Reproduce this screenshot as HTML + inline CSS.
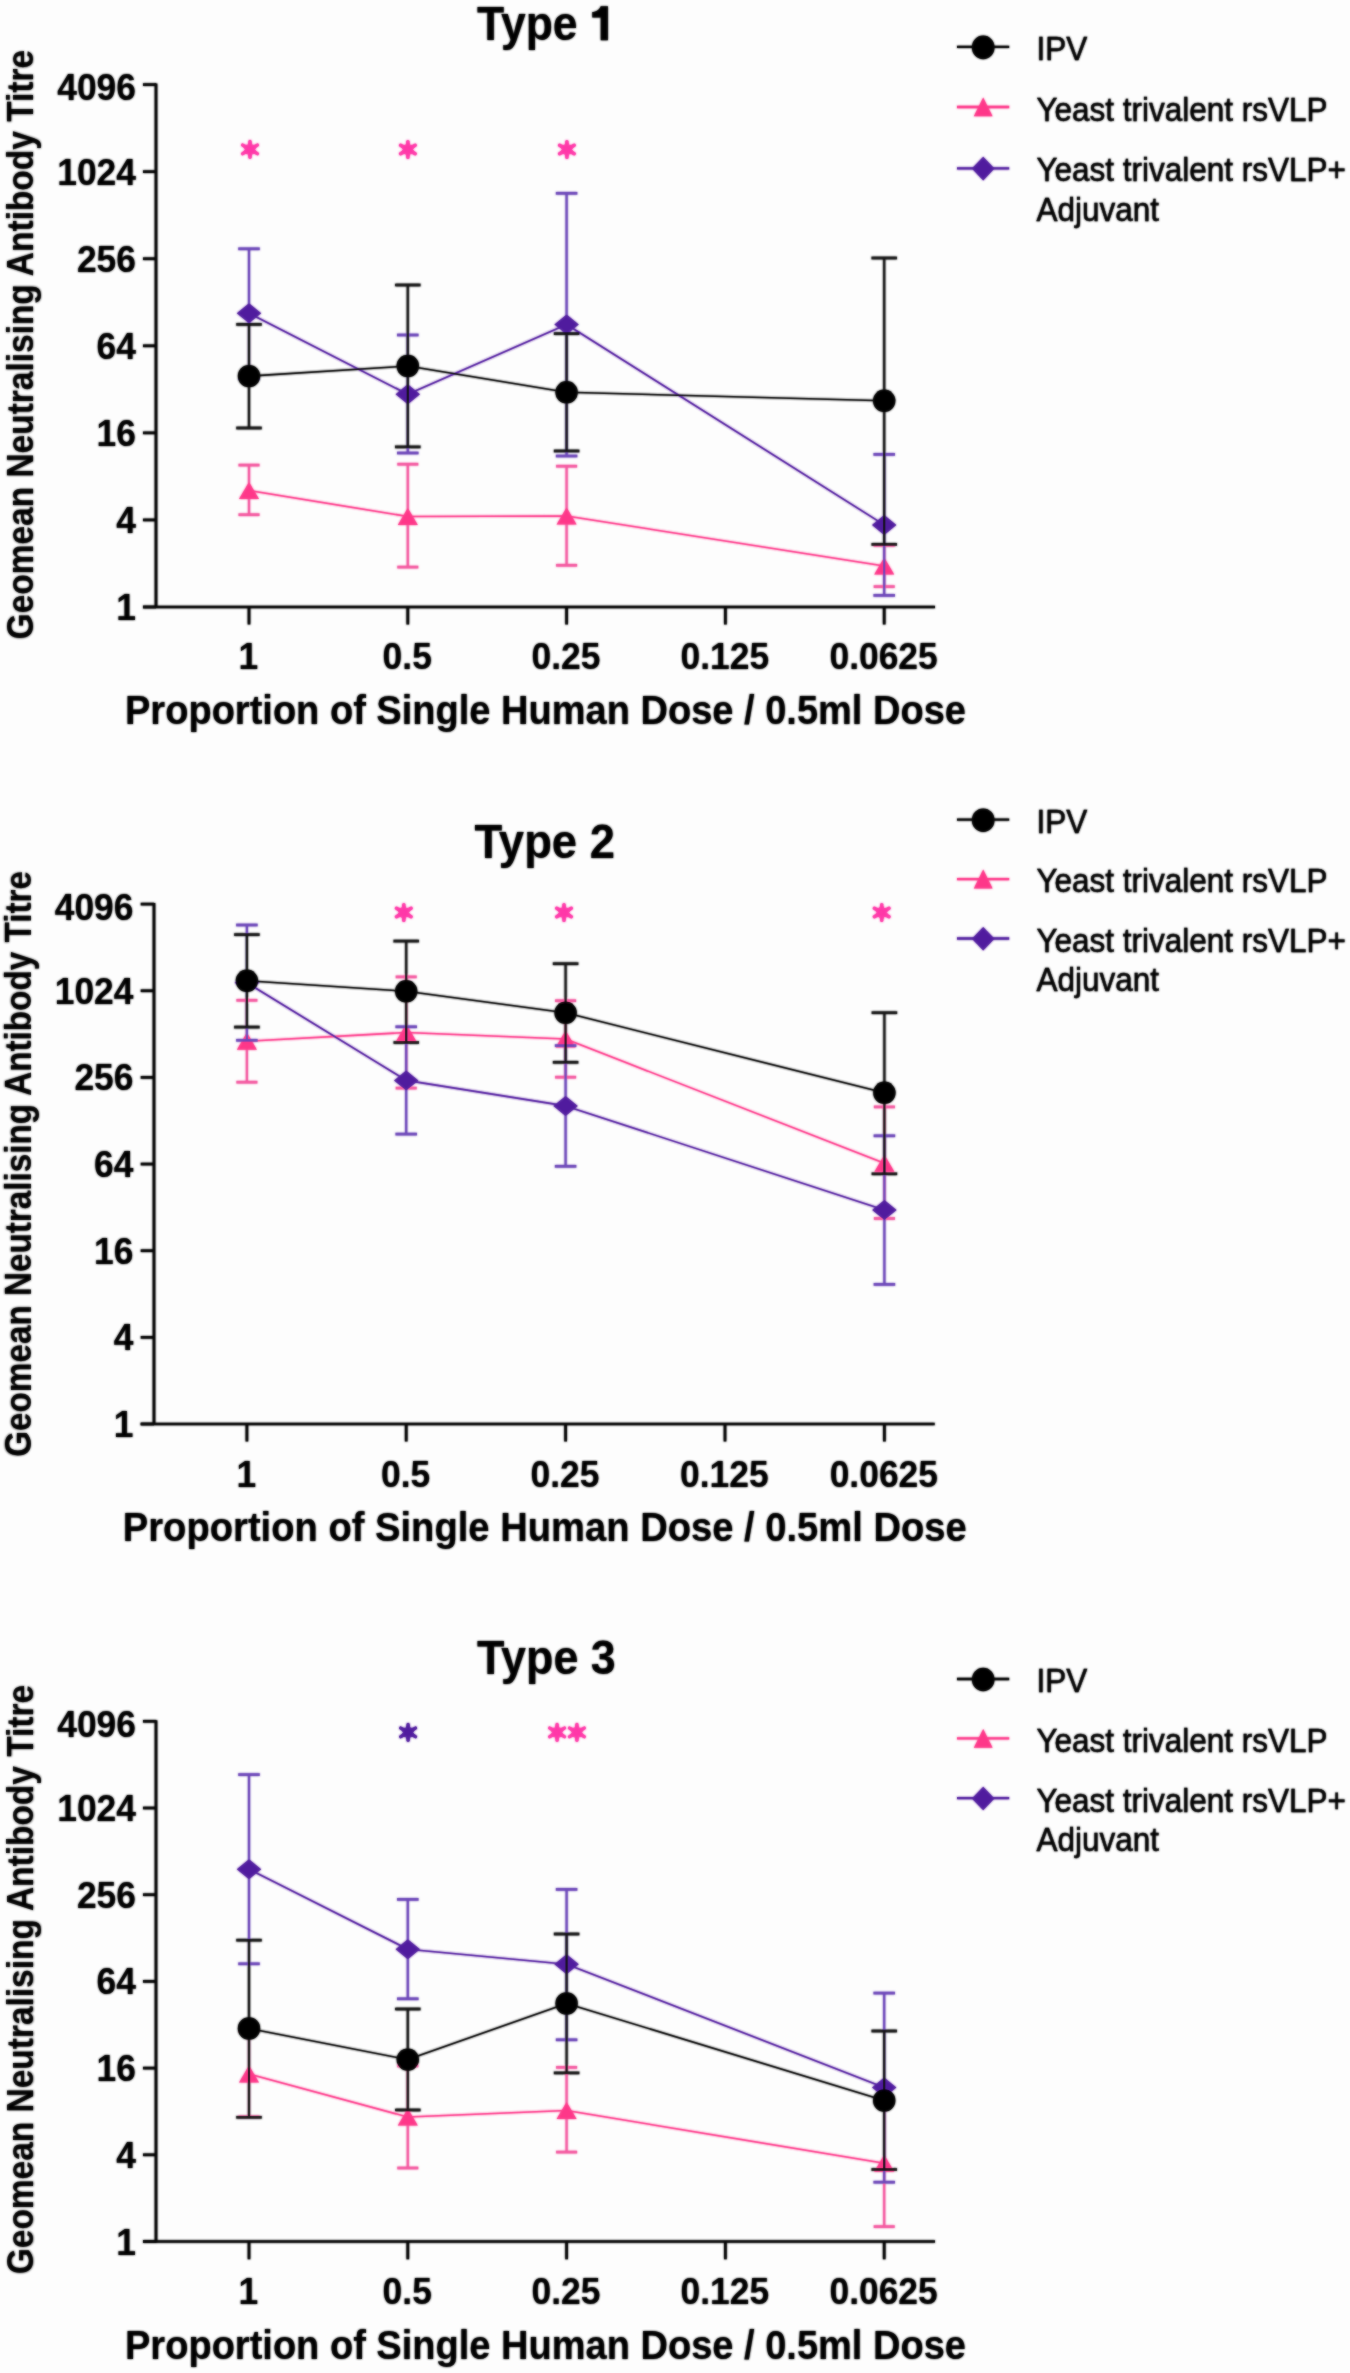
<!DOCTYPE html>
<html><head><meta charset="utf-8"><title>Geomean Neutralising Antibody Titre</title>
<style>
html,body{margin:0;padding:0;background:#fdfdfd;}
body{width:1350px;height:2373px;overflow:hidden;}
svg{display:block;}
text{font-family:"Liberation Sans",sans-serif;fill:#000;}
.tk{font-weight:bold;font-size:36.6px;}
.xt{font-weight:bold;font-size:41px;}
.yt{font-weight:bold;font-size:36px;}
.tt{font-weight:bold;font-size:49px;}
.lg{font-size:32.7px;stroke:#000;stroke-width:0.35px;}
</style></head>
<body>
<svg width="1350" height="2373" viewBox="0 0 1350 2373">
<defs><filter id="bl" x="-2%" y="-2%" width="104%" height="104%"><feGaussianBlur stdDeviation="1"/></filter>
<g id="c">
<line x1="156" y1="83.6" x2="156" y2="608" stroke="#000" stroke-width="2.7"/>
<line x1="143" y1="607" x2="935" y2="607" stroke="#000" stroke-width="2.7"/>
<line x1="143" y1="607" x2="156" y2="607" stroke="#000" stroke-width="2.7"/>
<text transform="translate(136,620) scale(0.968,1)" class="tk" text-anchor="end">1</text>
<line x1="143" y1="519.93" x2="156" y2="519.93" stroke="#000" stroke-width="2.7"/>
<text transform="translate(136,532.93) scale(0.968,1)" class="tk" text-anchor="end">4</text>
<line x1="143" y1="432.87" x2="156" y2="432.87" stroke="#000" stroke-width="2.7"/>
<text transform="translate(136,445.87) scale(0.968,1)" class="tk" text-anchor="end">16</text>
<line x1="143" y1="345.8" x2="156" y2="345.8" stroke="#000" stroke-width="2.7"/>
<text transform="translate(136,358.8) scale(0.968,1)" class="tk" text-anchor="end">64</text>
<line x1="143" y1="258.73" x2="156" y2="258.73" stroke="#000" stroke-width="2.7"/>
<text transform="translate(136,271.73) scale(0.968,1)" class="tk" text-anchor="end">256</text>
<line x1="143" y1="171.67" x2="156" y2="171.67" stroke="#000" stroke-width="2.7"/>
<text transform="translate(136,184.67) scale(0.968,1)" class="tk" text-anchor="end">1024</text>
<line x1="143" y1="84.6" x2="156" y2="84.6" stroke="#000" stroke-width="2.7"/>
<text transform="translate(136,100) scale(0.968,1)" class="tk" text-anchor="end">4096</text>
<line x1="249" y1="607" x2="249" y2="624.5" stroke="#000" stroke-width="2.7"/>
<text transform="translate(248.4,668.5) scale(0.968,1)" class="tk" text-anchor="middle">1</text>
<line x1="407.8" y1="607" x2="407.8" y2="624.5" stroke="#000" stroke-width="2.7"/>
<text transform="translate(407.2,668.5) scale(0.968,1)" class="tk" text-anchor="middle">0.5</text>
<line x1="566.6" y1="607" x2="566.6" y2="624.5" stroke="#000" stroke-width="2.7"/>
<text transform="translate(566,668.5) scale(0.968,1)" class="tk" text-anchor="middle">0.25</text>
<line x1="725.4" y1="607" x2="725.4" y2="624.5" stroke="#000" stroke-width="2.7"/>
<text transform="translate(724.8,668.5) scale(0.968,1)" class="tk" text-anchor="middle">0.125</text>
<line x1="884.2" y1="607" x2="884.2" y2="624.5" stroke="#000" stroke-width="2.7"/>
<text transform="translate(883.6,668.5) scale(0.968,1)" class="tk" text-anchor="middle">0.0625</text>
<text x="125" y="723.8" class="xt" textLength="841" lengthAdjust="spacingAndGlyphs">Proportion of Single Human Dose / 0.5ml Dose</text>
<text transform="translate(33.1,639.4) rotate(-90)" x="0" y="0" class="yt" textLength="589.5" lengthAdjust="spacingAndGlyphs">Geomean Neutralising Antibody Titre</text>
<text x="477" y="40" class="tt" textLength="100.6" lengthAdjust="spacingAndGlyphs">Type</text>
<path d="M600.7,6.2 L607.9,6.2 L607.9,40.2 L600.7,40.2 L600.7,17.6 L592.3,17.6 L592.3,12.0 C596.6,11.8 599.6,9.6 600.7,6.2 Z" fill="#000"/>
<line x1="249" y1="465.1" x2="249" y2="514.7" stroke="#f4579f" stroke-width="2.2"/>
<line x1="238.5" y1="465.1" x2="259.5" y2="465.1" stroke="#f4579f" stroke-width="2.7"/>
<line x1="238.5" y1="514.7" x2="259.5" y2="514.7" stroke="#f4579f" stroke-width="2.7"/>
<line x1="407.8" y1="464.2" x2="407.8" y2="567.1" stroke="#f4579f" stroke-width="2.2"/>
<line x1="397.3" y1="464.2" x2="418.3" y2="464.2" stroke="#f4579f" stroke-width="2.7"/>
<line x1="397.3" y1="567.1" x2="418.3" y2="567.1" stroke="#f4579f" stroke-width="2.7"/>
<line x1="566.6" y1="466.2" x2="566.6" y2="565.3" stroke="#f4579f" stroke-width="2.2"/>
<line x1="556.1" y1="466.2" x2="577.1" y2="466.2" stroke="#f4579f" stroke-width="2.7"/>
<line x1="556.1" y1="565.3" x2="577.1" y2="565.3" stroke="#f4579f" stroke-width="2.7"/>
<line x1="884.2" y1="545.4" x2="884.2" y2="586.6" stroke="#f4579f" stroke-width="2.2"/>
<line x1="873.7" y1="545.4" x2="894.7" y2="545.4" stroke="#f4579f" stroke-width="2.7"/>
<line x1="873.7" y1="586.6" x2="894.7" y2="586.6" stroke="#f4579f" stroke-width="2.7"/>
<polyline points="249,490.5 407.8,516.5 566.6,516 884.2,566" fill="none" stroke="#fe3789" stroke-width="1.6" stroke-linejoin="round"/>
<polygon points="249,481.9 259,499 239,499" fill="#fe3789"/>
<polygon points="407.8,507.9 417.8,525 397.8,525" fill="#fe3789"/>
<polygon points="566.6,507.4 576.6,524.5 556.6,524.5" fill="#fe3789"/>
<polygon points="884.2,557.4 894.2,574.5 874.2,574.5" fill="#fe3789"/>
<line x1="249" y1="248.8" x2="249" y2="378.8" stroke="#6b45b8" stroke-width="2.2"/>
<line x1="238.25" y1="248.8" x2="259.75" y2="248.8" stroke="#6b45b8" stroke-width="2.7"/>
<line x1="238.25" y1="378.8" x2="259.75" y2="378.8" stroke="#6b45b8" stroke-width="2.7"/>
<line x1="407.8" y1="335" x2="407.8" y2="453" stroke="#6b45b8" stroke-width="2.2"/>
<line x1="397.05" y1="335" x2="418.55" y2="335" stroke="#6b45b8" stroke-width="2.7"/>
<line x1="397.05" y1="453" x2="418.55" y2="453" stroke="#6b45b8" stroke-width="2.7"/>
<line x1="566.6" y1="193.3" x2="566.6" y2="456" stroke="#6b45b8" stroke-width="2.2"/>
<line x1="555.85" y1="193.3" x2="577.35" y2="193.3" stroke="#6b45b8" stroke-width="2.7"/>
<line x1="555.85" y1="456" x2="577.35" y2="456" stroke="#6b45b8" stroke-width="2.7"/>
<line x1="884.2" y1="454.4" x2="884.2" y2="595.4" stroke="#6b45b8" stroke-width="2.2"/>
<line x1="873.45" y1="454.4" x2="894.95" y2="454.4" stroke="#6b45b8" stroke-width="2.7"/>
<line x1="873.45" y1="595.4" x2="894.95" y2="595.4" stroke="#6b45b8" stroke-width="2.7"/>
<polyline points="249,313.3 407.8,394.3 566.6,324.5 884.2,524.9" fill="none" stroke="#511c9f" stroke-width="1.6" stroke-linejoin="round"/>
<polygon points="249,303.3 261.2,313.3 249,323.3 236.8,313.3" fill="#511c9f"/>
<polygon points="407.8,384.3 420,394.3 407.8,404.3 395.6,394.3" fill="#511c9f"/>
<polygon points="566.6,314.5 578.8,324.5 566.6,334.5 554.4,324.5" fill="#511c9f"/>
<polygon points="884.2,514.9 896.4,524.9 884.2,534.9 872,524.9" fill="#511c9f"/>
<line x1="249" y1="324.4" x2="249" y2="428" stroke="#111" stroke-width="2.2"/>
<line x1="236.25" y1="324.4" x2="261.75" y2="324.4" stroke="#111" stroke-width="2.7"/>
<line x1="236.25" y1="428" x2="261.75" y2="428" stroke="#111" stroke-width="2.7"/>
<line x1="407.8" y1="285" x2="407.8" y2="446.9" stroke="#111" stroke-width="2.2"/>
<line x1="395.05" y1="285" x2="420.55" y2="285" stroke="#111" stroke-width="2.7"/>
<line x1="395.05" y1="446.9" x2="420.55" y2="446.9" stroke="#111" stroke-width="2.7"/>
<line x1="566.6" y1="333.6" x2="566.6" y2="451" stroke="#111" stroke-width="2.2"/>
<line x1="553.85" y1="333.6" x2="579.35" y2="333.6" stroke="#111" stroke-width="2.7"/>
<line x1="553.85" y1="451" x2="579.35" y2="451" stroke="#111" stroke-width="2.7"/>
<line x1="884.2" y1="258" x2="884.2" y2="544.4" stroke="#111" stroke-width="2.2"/>
<line x1="871.45" y1="258" x2="896.95" y2="258" stroke="#111" stroke-width="2.7"/>
<line x1="871.45" y1="544.4" x2="896.95" y2="544.4" stroke="#111" stroke-width="2.7"/>
<polyline points="249,376.1 407.8,366 566.6,392.3 884.2,400.8" fill="none" stroke="#000" stroke-width="1.6" stroke-linejoin="round"/>
<circle cx="249" cy="376.1" r="11.2" fill="#000"/>
<circle cx="407.8" cy="366" r="11.2" fill="#000"/>
<circle cx="566.6" cy="392.3" r="11.2" fill="#000"/>
<circle cx="884.2" cy="400.8" r="11.2" fill="#000"/>
<g fill="#ff39a8" stroke="#ff39a8"><polygon points="250,140.8 252.3,145.42 257.45,145.1 254.6,149.4 257.45,153.7 252.3,153.38 250,158 247.7,153.38 242.55,153.7 245.4,149.4 242.55,145.1 247.7,145.42" stroke-width="1" stroke-linejoin="round"/><line x1="250" y1="149.4" x2="250" y2="141.5" stroke-width="3.4" stroke-linecap="round"/><line x1="250" y1="149.4" x2="257.36" y2="145.15" stroke-width="3.4" stroke-linecap="round"/><line x1="250" y1="149.4" x2="257.36" y2="153.65" stroke-width="3.4" stroke-linecap="round"/><line x1="250" y1="149.4" x2="250" y2="157.3" stroke-width="3.4" stroke-linecap="round"/><line x1="250" y1="149.4" x2="242.64" y2="153.65" stroke-width="3.4" stroke-linecap="round"/><line x1="250" y1="149.4" x2="242.64" y2="145.15" stroke-width="3.4" stroke-linecap="round"/></g>
<g fill="#ff39a8" stroke="#ff39a8"><polygon points="407.9,140.9 410.2,145.52 415.35,145.2 412.5,149.5 415.35,153.8 410.2,153.48 407.9,158.1 405.6,153.48 400.45,153.8 403.3,149.5 400.45,145.2 405.6,145.52" stroke-width="1" stroke-linejoin="round"/><line x1="407.9" y1="149.5" x2="407.9" y2="141.6" stroke-width="3.4" stroke-linecap="round"/><line x1="407.9" y1="149.5" x2="415.26" y2="145.25" stroke-width="3.4" stroke-linecap="round"/><line x1="407.9" y1="149.5" x2="415.26" y2="153.75" stroke-width="3.4" stroke-linecap="round"/><line x1="407.9" y1="149.5" x2="407.9" y2="157.4" stroke-width="3.4" stroke-linecap="round"/><line x1="407.9" y1="149.5" x2="400.54" y2="153.75" stroke-width="3.4" stroke-linecap="round"/><line x1="407.9" y1="149.5" x2="400.54" y2="145.25" stroke-width="3.4" stroke-linecap="round"/></g>
<g fill="#ff39a8" stroke="#ff39a8"><polygon points="566.9,140.9 569.2,145.52 574.35,145.2 571.5,149.5 574.35,153.8 569.2,153.48 566.9,158.1 564.6,153.48 559.45,153.8 562.3,149.5 559.45,145.2 564.6,145.52" stroke-width="1" stroke-linejoin="round"/><line x1="566.9" y1="149.5" x2="566.9" y2="141.6" stroke-width="3.4" stroke-linecap="round"/><line x1="566.9" y1="149.5" x2="574.26" y2="145.25" stroke-width="3.4" stroke-linecap="round"/><line x1="566.9" y1="149.5" x2="574.26" y2="153.75" stroke-width="3.4" stroke-linecap="round"/><line x1="566.9" y1="149.5" x2="566.9" y2="157.4" stroke-width="3.4" stroke-linecap="round"/><line x1="566.9" y1="149.5" x2="559.54" y2="153.75" stroke-width="3.4" stroke-linecap="round"/><line x1="566.9" y1="149.5" x2="559.54" y2="145.25" stroke-width="3.4" stroke-linecap="round"/></g>
<line x1="957" y1="46.9" x2="1009.2" y2="46.9" stroke="#000" stroke-width="2.3"/>
<ellipse cx="983.2" cy="47.4" rx="11.3" ry="11.8" fill="#000"/>
<line x1="957" y1="107" x2="1009.2" y2="107" stroke="#fe3789" stroke-width="2.3"/>
<polygon points="983.2,97.5 992.6,116.3 973.8,116.3" fill="#fe3789"/>
<line x1="957" y1="168.3" x2="1009.2" y2="168.3" stroke="#511c9f" stroke-width="2.3"/>
<polygon points="983.2,156.8 994.5,168.6 983.2,180.4 971.9,168.6" fill="#511c9f"/>
<text transform="translate(1036.4,59.8) scale(0.963,1)" class="lg">IPV</text>
<text transform="translate(1036.4,121) scale(0.963,1)" class="lg">Yeast trivalent rsVLP</text>
<text transform="translate(1036.4,181) scale(0.963,1)" class="lg">Yeast trivalent rsVLP+</text>
<text transform="translate(1036.4,221) scale(0.963,1)" class="lg">Adjuvant</text>
<line x1="154" y1="903.1" x2="154" y2="1425" stroke="#000" stroke-width="2.7"/>
<line x1="140.7" y1="1424" x2="934.7" y2="1424" stroke="#000" stroke-width="2.7"/>
<line x1="140.7" y1="1424" x2="154" y2="1424" stroke="#000" stroke-width="2.7"/>
<text transform="translate(133.5,1437) scale(0.968,1)" class="tk" text-anchor="end">1</text>
<line x1="140.7" y1="1337.35" x2="154" y2="1337.35" stroke="#000" stroke-width="2.7"/>
<text transform="translate(133.5,1350.35) scale(0.968,1)" class="tk" text-anchor="end">4</text>
<line x1="140.7" y1="1250.7" x2="154" y2="1250.7" stroke="#000" stroke-width="2.7"/>
<text transform="translate(133.5,1263.7) scale(0.968,1)" class="tk" text-anchor="end">16</text>
<line x1="140.7" y1="1164.05" x2="154" y2="1164.05" stroke="#000" stroke-width="2.7"/>
<text transform="translate(133.5,1177.05) scale(0.968,1)" class="tk" text-anchor="end">64</text>
<line x1="140.7" y1="1077.4" x2="154" y2="1077.4" stroke="#000" stroke-width="2.7"/>
<text transform="translate(133.5,1090.4) scale(0.968,1)" class="tk" text-anchor="end">256</text>
<line x1="140.7" y1="990.75" x2="154" y2="990.75" stroke="#000" stroke-width="2.7"/>
<text transform="translate(133.5,1003.75) scale(0.968,1)" class="tk" text-anchor="end">1024</text>
<line x1="140.7" y1="904.1" x2="154" y2="904.1" stroke="#000" stroke-width="2.7"/>
<text transform="translate(133.5,919.5) scale(0.968,1)" class="tk" text-anchor="end">4096</text>
<line x1="246.9" y1="1424" x2="246.9" y2="1441.5" stroke="#000" stroke-width="2.7"/>
<text transform="translate(246.3,1486.5) scale(0.968,1)" class="tk" text-anchor="middle">1</text>
<line x1="406.2" y1="1424" x2="406.2" y2="1441.5" stroke="#000" stroke-width="2.7"/>
<text transform="translate(405.6,1486.5) scale(0.968,1)" class="tk" text-anchor="middle">0.5</text>
<line x1="565.6" y1="1424" x2="565.6" y2="1441.5" stroke="#000" stroke-width="2.7"/>
<text transform="translate(565,1486.5) scale(0.968,1)" class="tk" text-anchor="middle">0.25</text>
<line x1="725" y1="1424" x2="725" y2="1441.5" stroke="#000" stroke-width="2.7"/>
<text transform="translate(724.4,1486.5) scale(0.968,1)" class="tk" text-anchor="middle">0.125</text>
<line x1="884.4" y1="1424" x2="884.4" y2="1441.5" stroke="#000" stroke-width="2.7"/>
<text transform="translate(883.8,1486.5) scale(0.968,1)" class="tk" text-anchor="middle">0.0625</text>
<text x="122.8" y="1541.2" class="xt" textLength="844" lengthAdjust="spacingAndGlyphs">Proportion of Single Human Dose / 0.5ml Dose</text>
<text transform="translate(30.7,1456.8) rotate(-90)" x="0" y="0" class="yt" textLength="585.7" lengthAdjust="spacingAndGlyphs">Geomean Neutralising Antibody Titre</text>
<text x="474.5" y="857.6" class="tt" textLength="140.5" lengthAdjust="spacingAndGlyphs">Type 2</text>
<line x1="246.9" y1="1000.3" x2="246.9" y2="1082.2" stroke="#f4579f" stroke-width="2.2"/>
<line x1="236.4" y1="1000.3" x2="257.4" y2="1000.3" stroke="#f4579f" stroke-width="2.7"/>
<line x1="236.4" y1="1082.2" x2="257.4" y2="1082.2" stroke="#f4579f" stroke-width="2.7"/>
<line x1="406.2" y1="976.9" x2="406.2" y2="1088.1" stroke="#f4579f" stroke-width="2.2"/>
<line x1="395.7" y1="976.9" x2="416.7" y2="976.9" stroke="#f4579f" stroke-width="2.7"/>
<line x1="395.7" y1="1088.1" x2="416.7" y2="1088.1" stroke="#f4579f" stroke-width="2.7"/>
<line x1="565.6" y1="1000.7" x2="565.6" y2="1077.2" stroke="#f4579f" stroke-width="2.2"/>
<line x1="555.1" y1="1000.7" x2="576.1" y2="1000.7" stroke="#f4579f" stroke-width="2.7"/>
<line x1="555.1" y1="1077.2" x2="576.1" y2="1077.2" stroke="#f4579f" stroke-width="2.7"/>
<line x1="884.4" y1="1106.9" x2="884.4" y2="1218.5" stroke="#f4579f" stroke-width="2.2"/>
<line x1="873.9" y1="1106.9" x2="894.9" y2="1106.9" stroke="#f4579f" stroke-width="2.7"/>
<line x1="873.9" y1="1218.5" x2="894.9" y2="1218.5" stroke="#f4579f" stroke-width="2.7"/>
<polyline points="246.9,1041.2 406.2,1032.5 565.6,1039 884.4,1163.3" fill="none" stroke="#fe3789" stroke-width="1.6" stroke-linejoin="round"/>
<polygon points="246.9,1032.6 256.9,1049.7 236.9,1049.7" fill="#fe3789"/>
<polygon points="406.2,1023.9 416.2,1041 396.2,1041" fill="#fe3789"/>
<polygon points="565.6,1030.4 575.6,1047.5 555.6,1047.5" fill="#fe3789"/>
<polygon points="884.4,1154.7 894.4,1171.8 874.4,1171.8" fill="#fe3789"/>
<line x1="246.9" y1="925" x2="246.9" y2="1040.3" stroke="#6b45b8" stroke-width="2.2"/>
<line x1="236.15" y1="925" x2="257.65" y2="925" stroke="#6b45b8" stroke-width="2.7"/>
<line x1="236.15" y1="1040.3" x2="257.65" y2="1040.3" stroke="#6b45b8" stroke-width="2.7"/>
<line x1="406.2" y1="1026.8" x2="406.2" y2="1134.1" stroke="#6b45b8" stroke-width="2.2"/>
<line x1="395.45" y1="1026.8" x2="416.95" y2="1026.8" stroke="#6b45b8" stroke-width="2.7"/>
<line x1="395.45" y1="1134.1" x2="416.95" y2="1134.1" stroke="#6b45b8" stroke-width="2.7"/>
<line x1="565.6" y1="1045.6" x2="565.6" y2="1166.3" stroke="#6b45b8" stroke-width="2.2"/>
<line x1="554.85" y1="1045.6" x2="576.35" y2="1045.6" stroke="#6b45b8" stroke-width="2.7"/>
<line x1="554.85" y1="1166.3" x2="576.35" y2="1166.3" stroke="#6b45b8" stroke-width="2.7"/>
<line x1="884.4" y1="1135.8" x2="884.4" y2="1284.4" stroke="#6b45b8" stroke-width="2.2"/>
<line x1="873.65" y1="1135.8" x2="895.15" y2="1135.8" stroke="#6b45b8" stroke-width="2.7"/>
<line x1="873.65" y1="1284.4" x2="895.15" y2="1284.4" stroke="#6b45b8" stroke-width="2.7"/>
<polyline points="246.9,982.7 406.2,1080.4 565.6,1105.9 884.4,1210.1" fill="none" stroke="#511c9f" stroke-width="1.6" stroke-linejoin="round"/>
<polygon points="246.9,972.7 259.1,982.7 246.9,992.7 234.7,982.7" fill="#511c9f"/>
<polygon points="406.2,1070.4 418.4,1080.4 406.2,1090.4 394,1080.4" fill="#511c9f"/>
<polygon points="565.6,1095.9 577.8,1105.9 565.6,1115.9 553.4,1105.9" fill="#511c9f"/>
<polygon points="884.4,1200.1 896.6,1210.1 884.4,1220.1 872.2,1210.1" fill="#511c9f"/>
<line x1="246.9" y1="934.6" x2="246.9" y2="1027.1" stroke="#111" stroke-width="2.2"/>
<line x1="234.15" y1="934.6" x2="259.65" y2="934.6" stroke="#111" stroke-width="2.7"/>
<line x1="234.15" y1="1027.1" x2="259.65" y2="1027.1" stroke="#111" stroke-width="2.7"/>
<line x1="406.2" y1="941.1" x2="406.2" y2="1042.5" stroke="#111" stroke-width="2.2"/>
<line x1="393.45" y1="941.1" x2="418.95" y2="941.1" stroke="#111" stroke-width="2.7"/>
<line x1="393.45" y1="1042.5" x2="418.95" y2="1042.5" stroke="#111" stroke-width="2.7"/>
<line x1="565.6" y1="963.7" x2="565.6" y2="1062.3" stroke="#111" stroke-width="2.2"/>
<line x1="552.85" y1="963.7" x2="578.35" y2="963.7" stroke="#111" stroke-width="2.7"/>
<line x1="552.85" y1="1062.3" x2="578.35" y2="1062.3" stroke="#111" stroke-width="2.7"/>
<line x1="884.4" y1="1012.7" x2="884.4" y2="1173.8" stroke="#111" stroke-width="2.2"/>
<line x1="871.65" y1="1012.7" x2="897.15" y2="1012.7" stroke="#111" stroke-width="2.7"/>
<line x1="871.65" y1="1173.8" x2="897.15" y2="1173.8" stroke="#111" stroke-width="2.7"/>
<polyline points="246.9,980.8 406.2,991.3 565.6,1012.8 884.4,1092.8" fill="none" stroke="#000" stroke-width="1.6" stroke-linejoin="round"/>
<circle cx="246.9" cy="980.8" r="11.2" fill="#000"/>
<circle cx="406.2" cy="991.3" r="11.2" fill="#000"/>
<circle cx="565.6" cy="1012.8" r="11.2" fill="#000"/>
<circle cx="884.4" cy="1092.8" r="11.2" fill="#000"/>
<g fill="#ff39a8" stroke="#ff39a8"><polygon points="403.8,903.9 406.1,908.52 411.25,908.2 408.4,912.5 411.25,916.8 406.1,916.48 403.8,921.1 401.5,916.48 396.35,916.8 399.2,912.5 396.35,908.2 401.5,908.52" stroke-width="1" stroke-linejoin="round"/><line x1="403.8" y1="912.5" x2="403.8" y2="904.6" stroke-width="3.4" stroke-linecap="round"/><line x1="403.8" y1="912.5" x2="411.16" y2="908.25" stroke-width="3.4" stroke-linecap="round"/><line x1="403.8" y1="912.5" x2="411.16" y2="916.75" stroke-width="3.4" stroke-linecap="round"/><line x1="403.8" y1="912.5" x2="403.8" y2="920.4" stroke-width="3.4" stroke-linecap="round"/><line x1="403.8" y1="912.5" x2="396.44" y2="916.75" stroke-width="3.4" stroke-linecap="round"/><line x1="403.8" y1="912.5" x2="396.44" y2="908.25" stroke-width="3.4" stroke-linecap="round"/></g>
<g fill="#ff39a8" stroke="#ff39a8"><polygon points="564,903.9 566.3,908.52 571.45,908.2 568.6,912.5 571.45,916.8 566.3,916.48 564,921.1 561.7,916.48 556.55,916.8 559.4,912.5 556.55,908.2 561.7,908.52" stroke-width="1" stroke-linejoin="round"/><line x1="564" y1="912.5" x2="564" y2="904.6" stroke-width="3.4" stroke-linecap="round"/><line x1="564" y1="912.5" x2="571.36" y2="908.25" stroke-width="3.4" stroke-linecap="round"/><line x1="564" y1="912.5" x2="571.36" y2="916.75" stroke-width="3.4" stroke-linecap="round"/><line x1="564" y1="912.5" x2="564" y2="920.4" stroke-width="3.4" stroke-linecap="round"/><line x1="564" y1="912.5" x2="556.64" y2="916.75" stroke-width="3.4" stroke-linecap="round"/><line x1="564" y1="912.5" x2="556.64" y2="908.25" stroke-width="3.4" stroke-linecap="round"/></g>
<g fill="#ff39a8" stroke="#ff39a8"><polygon points="881.7,903.9 884,908.52 889.15,908.2 886.3,912.5 889.15,916.8 884,916.48 881.7,921.1 879.4,916.48 874.25,916.8 877.1,912.5 874.25,908.2 879.4,908.52" stroke-width="1" stroke-linejoin="round"/><line x1="881.7" y1="912.5" x2="881.7" y2="904.6" stroke-width="3.4" stroke-linecap="round"/><line x1="881.7" y1="912.5" x2="889.06" y2="908.25" stroke-width="3.4" stroke-linecap="round"/><line x1="881.7" y1="912.5" x2="889.06" y2="916.75" stroke-width="3.4" stroke-linecap="round"/><line x1="881.7" y1="912.5" x2="881.7" y2="920.4" stroke-width="3.4" stroke-linecap="round"/><line x1="881.7" y1="912.5" x2="874.34" y2="916.75" stroke-width="3.4" stroke-linecap="round"/><line x1="881.7" y1="912.5" x2="874.34" y2="908.25" stroke-width="3.4" stroke-linecap="round"/></g>
<line x1="957" y1="819.7" x2="1009.2" y2="819.7" stroke="#000" stroke-width="2.3"/>
<ellipse cx="983.2" cy="820.2" rx="11.3" ry="11.8" fill="#000"/>
<line x1="957" y1="879.1" x2="1009.2" y2="879.1" stroke="#fe3789" stroke-width="2.3"/>
<polygon points="983.2,869.6 992.6,888.4 973.8,888.4" fill="#fe3789"/>
<line x1="957" y1="938.5" x2="1009.2" y2="938.5" stroke="#511c9f" stroke-width="2.3"/>
<polygon points="983.2,927 994.5,938.8 983.2,950.6 971.9,938.8" fill="#511c9f"/>
<text transform="translate(1036.4,832.9) scale(0.963,1)" class="lg">IPV</text>
<text transform="translate(1036.4,892.3) scale(0.963,1)" class="lg">Yeast trivalent rsVLP</text>
<text transform="translate(1036.4,951.8) scale(0.963,1)" class="lg">Yeast trivalent rsVLP+</text>
<text transform="translate(1036.4,991) scale(0.963,1)" class="lg">Adjuvant</text>
<line x1="156" y1="1720.3" x2="156" y2="2242.5" stroke="#000" stroke-width="2.7"/>
<line x1="143" y1="2241.5" x2="935" y2="2241.5" stroke="#000" stroke-width="2.7"/>
<line x1="143" y1="2241.5" x2="156" y2="2241.5" stroke="#000" stroke-width="2.7"/>
<text transform="translate(136,2254.5) scale(0.968,1)" class="tk" text-anchor="end">1</text>
<line x1="143" y1="2154.8" x2="156" y2="2154.8" stroke="#000" stroke-width="2.7"/>
<text transform="translate(136,2167.8) scale(0.968,1)" class="tk" text-anchor="end">4</text>
<line x1="143" y1="2068.1" x2="156" y2="2068.1" stroke="#000" stroke-width="2.7"/>
<text transform="translate(136,2081.1) scale(0.968,1)" class="tk" text-anchor="end">16</text>
<line x1="143" y1="1981.4" x2="156" y2="1981.4" stroke="#000" stroke-width="2.7"/>
<text transform="translate(136,1994.4) scale(0.968,1)" class="tk" text-anchor="end">64</text>
<line x1="143" y1="1894.7" x2="156" y2="1894.7" stroke="#000" stroke-width="2.7"/>
<text transform="translate(136,1907.7) scale(0.968,1)" class="tk" text-anchor="end">256</text>
<line x1="143" y1="1808" x2="156" y2="1808" stroke="#000" stroke-width="2.7"/>
<text transform="translate(136,1821) scale(0.968,1)" class="tk" text-anchor="end">1024</text>
<line x1="143" y1="1721.3" x2="156" y2="1721.3" stroke="#000" stroke-width="2.7"/>
<text transform="translate(136,1736.7) scale(0.968,1)" class="tk" text-anchor="end">4096</text>
<line x1="249" y1="2241.5" x2="249" y2="2259.3" stroke="#000" stroke-width="2.7"/>
<text transform="translate(248.4,2303.5) scale(0.968,1)" class="tk" text-anchor="middle">1</text>
<line x1="407.8" y1="2241.5" x2="407.8" y2="2259.3" stroke="#000" stroke-width="2.7"/>
<text transform="translate(407.2,2303.5) scale(0.968,1)" class="tk" text-anchor="middle">0.5</text>
<line x1="566.6" y1="2241.5" x2="566.6" y2="2259.3" stroke="#000" stroke-width="2.7"/>
<text transform="translate(566,2303.5) scale(0.968,1)" class="tk" text-anchor="middle">0.25</text>
<line x1="725.4" y1="2241.5" x2="725.4" y2="2259.3" stroke="#000" stroke-width="2.7"/>
<text transform="translate(724.8,2303.5) scale(0.968,1)" class="tk" text-anchor="middle">0.125</text>
<line x1="884.2" y1="2241.5" x2="884.2" y2="2259.3" stroke="#000" stroke-width="2.7"/>
<text transform="translate(883.6,2303.5) scale(0.968,1)" class="tk" text-anchor="middle">0.0625</text>
<text x="125" y="2358.5" class="xt" textLength="841" lengthAdjust="spacingAndGlyphs">Proportion of Single Human Dose / 0.5ml Dose</text>
<text transform="translate(33.3,2274.2) rotate(-90)" x="0" y="0" class="yt" textLength="589.3" lengthAdjust="spacingAndGlyphs">Geomean Neutralising Antibody Titre</text>
<text x="477" y="1673.5" class="tt" textLength="138.7" lengthAdjust="spacingAndGlyphs">Type 3</text>
<line x1="249" y1="2031" x2="249" y2="2116.8" stroke="#f4579f" stroke-width="2.2"/>
<line x1="238.5" y1="2031" x2="259.5" y2="2031" stroke="#f4579f" stroke-width="2.7"/>
<line x1="238.5" y1="2116.8" x2="259.5" y2="2116.8" stroke="#f4579f" stroke-width="2.7"/>
<line x1="407.8" y1="2066" x2="407.8" y2="2168" stroke="#f4579f" stroke-width="2.2"/>
<line x1="397.3" y1="2066" x2="418.3" y2="2066" stroke="#f4579f" stroke-width="2.7"/>
<line x1="397.3" y1="2168" x2="418.3" y2="2168" stroke="#f4579f" stroke-width="2.7"/>
<line x1="566.6" y1="2067.4" x2="566.6" y2="2152.1" stroke="#f4579f" stroke-width="2.2"/>
<line x1="556.1" y1="2067.4" x2="577.1" y2="2067.4" stroke="#f4579f" stroke-width="2.7"/>
<line x1="556.1" y1="2152.1" x2="577.1" y2="2152.1" stroke="#f4579f" stroke-width="2.7"/>
<line x1="884.2" y1="2100.4" x2="884.2" y2="2226.6" stroke="#f4579f" stroke-width="2.2"/>
<line x1="873.7" y1="2100.4" x2="894.7" y2="2100.4" stroke="#f4579f" stroke-width="2.7"/>
<line x1="873.7" y1="2226.6" x2="894.7" y2="2226.6" stroke="#f4579f" stroke-width="2.7"/>
<polyline points="249,2074 407.8,2117 566.6,2110.5 884.2,2163.3" fill="none" stroke="#fe3789" stroke-width="1.6" stroke-linejoin="round"/>
<polygon points="249,2065.4 259,2082.5 239,2082.5" fill="#fe3789"/>
<polygon points="407.8,2108.4 417.8,2125.5 397.8,2125.5" fill="#fe3789"/>
<polygon points="566.6,2101.9 576.6,2119 556.6,2119" fill="#fe3789"/>
<polygon points="884.2,2154.7 894.2,2171.8 874.2,2171.8" fill="#fe3789"/>
<line x1="249" y1="1774.6" x2="249" y2="1963.8" stroke="#6b45b8" stroke-width="2.2"/>
<line x1="238.25" y1="1774.6" x2="259.75" y2="1774.6" stroke="#6b45b8" stroke-width="2.7"/>
<line x1="238.25" y1="1963.8" x2="259.75" y2="1963.8" stroke="#6b45b8" stroke-width="2.7"/>
<line x1="407.8" y1="1899.4" x2="407.8" y2="1998.8" stroke="#6b45b8" stroke-width="2.2"/>
<line x1="397.05" y1="1899.4" x2="418.55" y2="1899.4" stroke="#6b45b8" stroke-width="2.7"/>
<line x1="397.05" y1="1998.8" x2="418.55" y2="1998.8" stroke="#6b45b8" stroke-width="2.7"/>
<line x1="566.6" y1="1889.4" x2="566.6" y2="2039.8" stroke="#6b45b8" stroke-width="2.2"/>
<line x1="555.85" y1="1889.4" x2="577.35" y2="1889.4" stroke="#6b45b8" stroke-width="2.7"/>
<line x1="555.85" y1="2039.8" x2="577.35" y2="2039.8" stroke="#6b45b8" stroke-width="2.7"/>
<line x1="884.2" y1="1993.1" x2="884.2" y2="2182.2" stroke="#6b45b8" stroke-width="2.2"/>
<line x1="873.45" y1="1993.1" x2="894.95" y2="1993.1" stroke="#6b45b8" stroke-width="2.7"/>
<line x1="873.45" y1="2182.2" x2="894.95" y2="2182.2" stroke="#6b45b8" stroke-width="2.7"/>
<polyline points="249,1869.2 407.8,1949.2 566.6,1964.2 884.2,2087.4" fill="none" stroke="#511c9f" stroke-width="1.6" stroke-linejoin="round"/>
<polygon points="249,1859.2 261.2,1869.2 249,1879.2 236.8,1869.2" fill="#511c9f"/>
<polygon points="407.8,1939.2 420,1949.2 407.8,1959.2 395.6,1949.2" fill="#511c9f"/>
<polygon points="566.6,1954.2 578.8,1964.2 566.6,1974.2 554.4,1964.2" fill="#511c9f"/>
<polygon points="884.2,2077.4 896.4,2087.4 884.2,2097.4 872,2087.4" fill="#511c9f"/>
<line x1="249" y1="1940.2" x2="249" y2="2117.3" stroke="#111" stroke-width="2.2"/>
<line x1="236.25" y1="1940.2" x2="261.75" y2="1940.2" stroke="#111" stroke-width="2.7"/>
<line x1="236.25" y1="2117.3" x2="261.75" y2="2117.3" stroke="#111" stroke-width="2.7"/>
<line x1="407.8" y1="2009" x2="407.8" y2="2110" stroke="#111" stroke-width="2.2"/>
<line x1="395.05" y1="2009" x2="420.55" y2="2009" stroke="#111" stroke-width="2.7"/>
<line x1="395.05" y1="2110" x2="420.55" y2="2110" stroke="#111" stroke-width="2.7"/>
<line x1="566.6" y1="1934" x2="566.6" y2="2072.9" stroke="#111" stroke-width="2.2"/>
<line x1="553.85" y1="1934" x2="579.35" y2="1934" stroke="#111" stroke-width="2.7"/>
<line x1="553.85" y1="2072.9" x2="579.35" y2="2072.9" stroke="#111" stroke-width="2.7"/>
<line x1="884.2" y1="2031" x2="884.2" y2="2169.5" stroke="#111" stroke-width="2.2"/>
<line x1="871.45" y1="2031" x2="896.95" y2="2031" stroke="#111" stroke-width="2.7"/>
<line x1="871.45" y1="2169.5" x2="896.95" y2="2169.5" stroke="#111" stroke-width="2.7"/>
<polyline points="249,2028.5 407.8,2059.6 566.6,2003.5 884.2,2100.5" fill="none" stroke="#000" stroke-width="1.6" stroke-linejoin="round"/>
<circle cx="249" cy="2028.5" r="11.2" fill="#000"/>
<circle cx="407.8" cy="2059.6" r="11.2" fill="#000"/>
<circle cx="566.6" cy="2003.5" r="11.2" fill="#000"/>
<circle cx="884.2" cy="2100.5" r="11.2" fill="#000"/>
<g fill="#511c9f" stroke="#511c9f"><polygon points="408.1,1723.8 410.4,1728.42 415.55,1728.1 412.7,1732.4 415.55,1736.7 410.4,1736.38 408.1,1741 405.8,1736.38 400.65,1736.7 403.5,1732.4 400.65,1728.1 405.8,1728.42" stroke-width="1" stroke-linejoin="round"/><line x1="408.1" y1="1732.4" x2="408.1" y2="1724.5" stroke-width="3.4" stroke-linecap="round"/><line x1="408.1" y1="1732.4" x2="415.46" y2="1728.15" stroke-width="3.4" stroke-linecap="round"/><line x1="408.1" y1="1732.4" x2="415.46" y2="1736.65" stroke-width="3.4" stroke-linecap="round"/><line x1="408.1" y1="1732.4" x2="408.1" y2="1740.3" stroke-width="3.4" stroke-linecap="round"/><line x1="408.1" y1="1732.4" x2="400.74" y2="1736.65" stroke-width="3.4" stroke-linecap="round"/><line x1="408.1" y1="1732.4" x2="400.74" y2="1728.15" stroke-width="3.4" stroke-linecap="round"/></g>
<g fill="#ff39a8" stroke="#ff39a8"><polygon points="557.1,1723.8 559.4,1728.42 564.55,1728.1 561.7,1732.4 564.55,1736.7 559.4,1736.38 557.1,1741 554.8,1736.38 549.65,1736.7 552.5,1732.4 549.65,1728.1 554.8,1728.42" stroke-width="1" stroke-linejoin="round"/><line x1="557.1" y1="1732.4" x2="557.1" y2="1724.5" stroke-width="3.4" stroke-linecap="round"/><line x1="557.1" y1="1732.4" x2="564.46" y2="1728.15" stroke-width="3.4" stroke-linecap="round"/><line x1="557.1" y1="1732.4" x2="564.46" y2="1736.65" stroke-width="3.4" stroke-linecap="round"/><line x1="557.1" y1="1732.4" x2="557.1" y2="1740.3" stroke-width="3.4" stroke-linecap="round"/><line x1="557.1" y1="1732.4" x2="549.74" y2="1736.65" stroke-width="3.4" stroke-linecap="round"/><line x1="557.1" y1="1732.4" x2="549.74" y2="1728.15" stroke-width="3.4" stroke-linecap="round"/></g>
<g fill="#ff39a8" stroke="#ff39a8"><polygon points="576.9,1723.8 579.2,1728.42 584.35,1728.1 581.5,1732.4 584.35,1736.7 579.2,1736.38 576.9,1741 574.6,1736.38 569.45,1736.7 572.3,1732.4 569.45,1728.1 574.6,1728.42" stroke-width="1" stroke-linejoin="round"/><line x1="576.9" y1="1732.4" x2="576.9" y2="1724.5" stroke-width="3.4" stroke-linecap="round"/><line x1="576.9" y1="1732.4" x2="584.26" y2="1728.15" stroke-width="3.4" stroke-linecap="round"/><line x1="576.9" y1="1732.4" x2="584.26" y2="1736.65" stroke-width="3.4" stroke-linecap="round"/><line x1="576.9" y1="1732.4" x2="576.9" y2="1740.3" stroke-width="3.4" stroke-linecap="round"/><line x1="576.9" y1="1732.4" x2="569.54" y2="1736.65" stroke-width="3.4" stroke-linecap="round"/><line x1="576.9" y1="1732.4" x2="569.54" y2="1728.15" stroke-width="3.4" stroke-linecap="round"/></g>
<line x1="957" y1="1679" x2="1009.2" y2="1679" stroke="#000" stroke-width="2.3"/>
<ellipse cx="983.2" cy="1679.5" rx="11.3" ry="11.8" fill="#000"/>
<line x1="957" y1="1738.4" x2="1009.2" y2="1738.4" stroke="#fe3789" stroke-width="2.3"/>
<polygon points="983.2,1728.9 992.6,1747.7 973.8,1747.7" fill="#fe3789"/>
<line x1="957" y1="1798.2" x2="1009.2" y2="1798.2" stroke="#511c9f" stroke-width="2.3"/>
<polygon points="983.2,1786.7 994.5,1798.5 983.2,1810.3 971.9,1798.5" fill="#511c9f"/>
<text transform="translate(1036.4,1692.2) scale(0.963,1)" class="lg">IPV</text>
<text transform="translate(1036.4,1751.6) scale(0.963,1)" class="lg">Yeast trivalent rsVLP</text>
<text transform="translate(1036.4,1811.5) scale(0.963,1)" class="lg">Yeast trivalent rsVLP+</text>
<text transform="translate(1036.4,1850.7) scale(0.963,1)" class="lg">Adjuvant</text>
</g></defs>
<rect width="1350" height="2373" fill="#fdfdfd"/>
<use href="#c" filter="url(#bl)"/>
<use href="#c" opacity="0.6"/>
</svg>
</body></html>
